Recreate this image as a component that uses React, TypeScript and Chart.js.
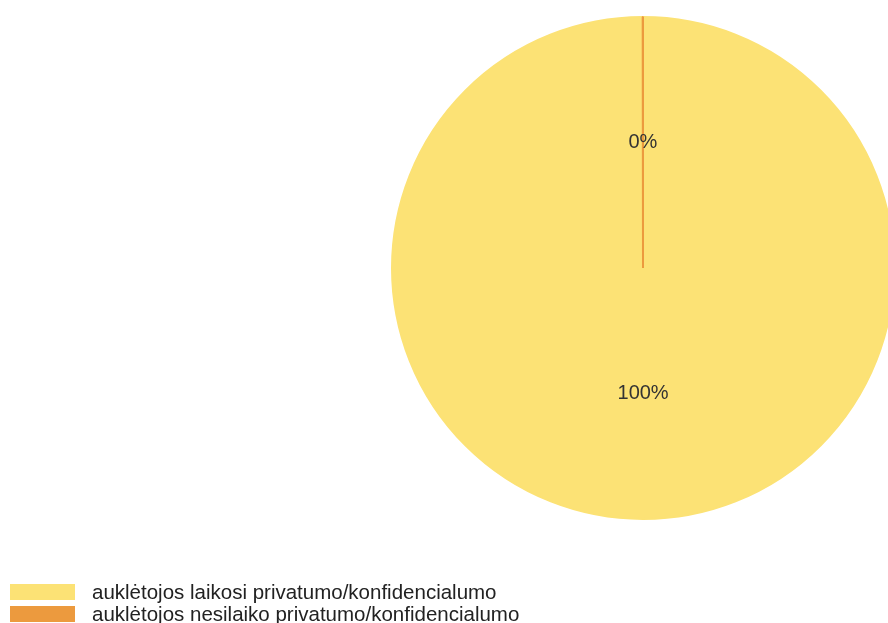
import React, { useEffect, useRef } from 'react';
import Chart from 'chart.js/auto';

// duomenys
const labels = [
  'auklėtojos laikosi privatumo/konfidencialumo',
  'auklėtojos nesilaiko privatumo/konfidencialumo',
];
// 0% slice kept as a tiny value so its edge line still shows like in the source
const values = [100, 0.02];
const colors = ['#FCE275', '#EC9A3E'];

const FONT = '"Liberation Sans", Arial, sans-serif';

// draws the percentage inside each slice, at half radius
const percentLabels = {
  id: 'percentLabels',
  afterDatasetsDraw(chart: Chart) {
    const { ctx } = chart;
    const meta = chart.getDatasetMeta(0);
    const data = chart.data.datasets[0].data as number[];
    const total = data.reduce((a, b) => a + b, 0);
    ctx.save();
    ctx.font = `20px ${FONT}`;
    ctx.fillStyle = '#333333';
    ctx.textAlign = 'center';
    ctx.textBaseline = 'middle';
    meta.data.forEach((arc: any, i: number) => {
      const pos = arc.tooltipPosition();
      const pct = Math.round((data[i] / total) * 100);
      ctx.fillText(`${pct}%`, pos.x, pos.y);
    });
    ctx.restore();
  },
};

const App: React.FC = () => {
  const chartRef = useRef<HTMLCanvasElement>(null);
  const chartInstance = useRef<Chart | null>(null);

  useEffect(() => {
    if (!chartRef.current) return;
    if (chartInstance.current) chartInstance.current.destroy();

    chartInstance.current = new Chart(chartRef.current, {
      type: 'pie',
      data: {
        labels,
        datasets: [
          {
            data: values,
            backgroundColor: colors,
            borderColor: colors,
            borderWidth: 2,
          },
        ],
      },
      options: {
        animation: false,
        responsive: false,
        maintainAspectRatio: false,
        layout: { padding: { top: 8, bottom: 8, left: 0, right: 0 } },
        plugins: {
          legend: { display: false },
          tooltip: { enabled: false },
        },
      },
      plugins: [percentLabels],
    });

    return () => {
      if (chartInstance.current) {
        chartInstance.current.destroy();
        chartInstance.current = null;
      }
    };
  }, []);

  // fixed to the viewport so the pie is cut by the window edge, not by scrollbars
  return (
    <div style={{ position: 'fixed', left: 0, top: 0, width: '100vw', height: '100vh', overflow: 'hidden' }}>
      <canvas ref={chartRef} width={1270} height={520} style={{ position: 'absolute', left: 8, top: 8 }} />
      <div style={{ position: 'absolute', left: 10, top: 581, fontFamily: FONT, fontSize: 20.5, color: '#222' }}>
        {labels.map((l, i) => (
          <div key={l} style={{ display: 'flex', alignItems: 'center', height: 22 }}>
            <span style={{ display: 'inline-block', width: 65, height: 16, background: colors[i], marginRight: 17 }} />
            <span style={{ whiteSpace: 'nowrap', lineHeight: '22px' }}>{l}</span>
          </div>
        ))}
      </div>
    </div>
  );
};

export default App;
